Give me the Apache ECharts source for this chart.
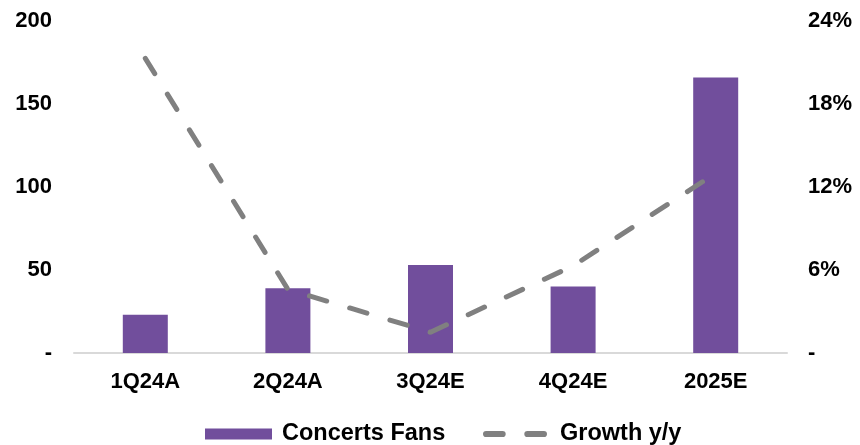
<!DOCTYPE html>
<html>
<head>
<meta charset="utf-8">
<script src="https://cdn.jsdelivr.net/npm/echarts@6/dist/echarts.min.js"></script>
<style>
  html, body { margin: 0; padding: 0; background: #fff; }
  #chart { width: 860px; height: 445px; }
</style>
</head>
<body>
<div id="chart"></div>
<script>
// Quarterly / annual periods on the category axis
const periods = ['1Q24A', '2Q24A', '3Q24E', '4Q24E', '2025E'];
// Concerts fans (left axis)
const concertsFans = [23, 39, 53, 40, 166];
// Year-over-year growth, in percent (right axis)
const growthYoY = [21.3, 4.6, 1.5, 6.3, 13.0];

const font = 'Liberation Sans, Arial, sans-serif';
const labelStyle = { color: '#000', fontFamily: font, fontWeight: 'bold', fontSize: 22 };
const legendText = Object.assign({}, labelStyle, { fontSize: 23.5 });
const lineColor = '#808080';
// Two rounded dashes used as the legend swatch of the growth line
const dashIcon = 'path://M3,0 H19 A3,3 0 0 1 19,6 H3 A3,3 0 0 1 3,0 Z M43,0 H59 A3,3 0 0 1 59,6 H43 A3,3 0 0 1 43,0 Z';

const chart = echarts.init(document.getElementById('chart'));
chart.setOption({
  animation: false,
  grid: { left: 74, right: 73, top: 21, bottom: 92 },
  legend: [
    {
      left: 200,
      top: 417,
      itemWidth: 67,
      itemHeight: 11,
      textStyle: Object.assign({ padding: [0, 0, 0, 5] }, legendText),
      data: [{ name: 'Concerts Fans', icon: 'rect' }]
    },
    {
      left: 478,
      top: 417,
      itemWidth: 64,
      itemHeight: 11,
      textStyle: Object.assign({ padding: [0, 0, 0, 8] }, legendText),
      data: [{ name: 'Growth y/y', icon: dashIcon }]
    }
  ],
  xAxis: {
    type: 'category',
    data: periods,
    axisLine: { lineStyle: { color: '#d9d9d9', width: 2 } },
    axisTick: { show: false },
    axisLabel: Object.assign({ margin: 18 }, labelStyle)
  },
  yAxis: [
    {
      type: 'value',
      min: 0, max: 200, interval: 50,
      splitLine: { show: false },
      axisLine: { show: false },
      axisTick: { show: false },
      axisLabel: Object.assign({
        margin: 22,
        formatter: v => v === 0 ? '-' : String(v)
      }, labelStyle)
    },
    {
      type: 'value',
      min: 0, max: 24, interval: 6,
      splitLine: { show: false },
      axisLine: { show: false },
      axisTick: { show: false },
      axisLabel: Object.assign({
        margin: 21,
        formatter: v => v === 0 ? '-' : v + '%'
      }, labelStyle)
    }
  ],
  series: [
    {
      name: 'Concerts Fans',
      type: 'bar',
      data: concertsFans,
      barWidth: 45,
      itemStyle: { color: '#714E9C' }
    },
    {
      name: 'Growth y/y',
      type: 'line',
      yAxisIndex: 1,
      data: growthYoY,
      symbol: 'none',
      itemStyle: { color: lineColor },
      lineStyle: { color: lineColor, width: 5, type: [18, 24], cap: 'round' }
    }
  ]
});
</script>
</body>
</html>
